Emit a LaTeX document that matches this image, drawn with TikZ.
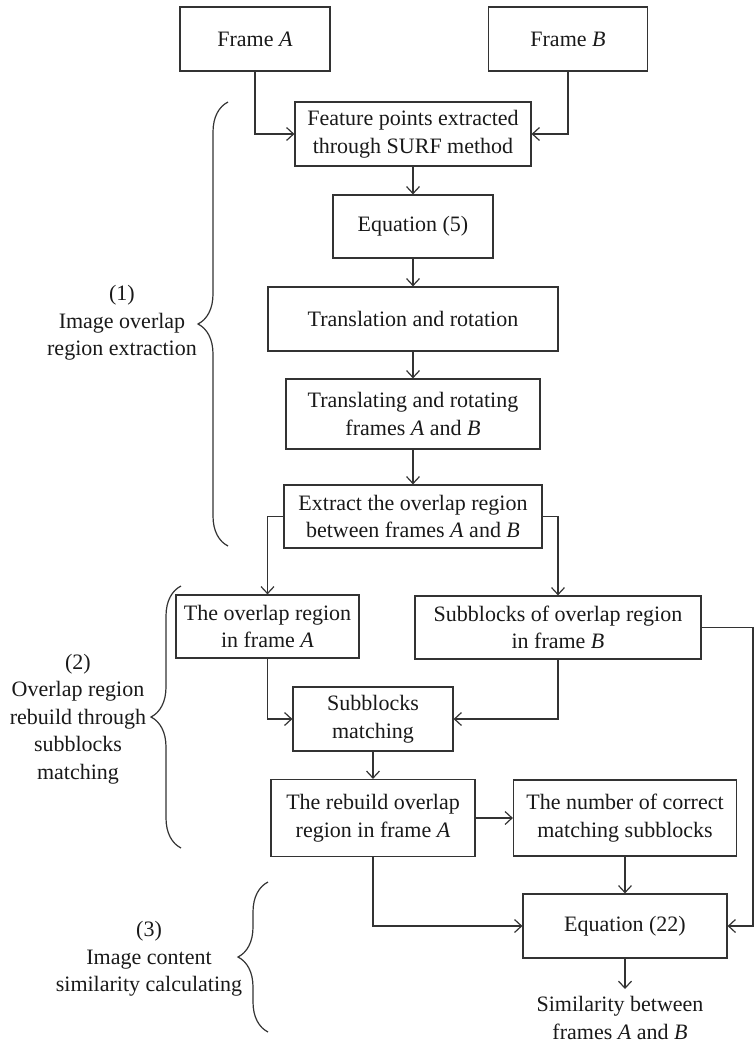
\documentclass[tikz,border=0pt]{standalone}
\usepackage{fontspec}
\setmainfont{Liberation Serif}
\usetikzlibrary{arrows.meta,decorations.pathreplacing}

\begin{document}
\begin{tikzpicture}[x=1pt,y=-1pt,
  font=\fontsize{22}{27.5}\selectfont,
  line width=1.2pt,
  every node/.style={text=black!90},
  blk/.style={draw=black!80,align=center,inner sep=0pt,minimum height=64pt},
  arr/.style={draw=black!80,-{Straight Barb[length=7pt,width=13pt,line width=1.2pt]}},
  brc/.style={draw=black!80,decorate,decoration={brace,amplitude=30pt}}]

\useasboundingbox (0,0) rectangle (755,1049);

\newcommand\colx{413}

\node[blk,minimum width=150pt] (frameA) at (255,39) {Frame \textit{A}};
\node[blk,minimum width=159pt] (frameB) at (568,39) {Frame \textit{B}};

\node[blk,minimum width=236pt] (surf) at (\colx,134) {Feature points extracted\\through SURF method};
\node[blk,minimum width=160pt,minimum height=63pt] (eqfive) at (\colx,226.5) {Equation (5)};
\node[blk,minimum width=290pt] (transrot) at (\colx,319) {Translation and rotation};
\node[blk,minimum width=254pt,minimum height=70pt] (transframes) at (\colx,414) {Translating and rotating\\frames \textit{A} and \textit{B}};
\node[blk,minimum width=258pt,minimum height=63pt] (extract) at (\colx,516.5) {Extract the overlap region\\between frames \textit{A} and \textit{B}};

\node[blk,minimum width=183pt,minimum height=63pt] (overlapA) at (267.5,626.5) {The overlap region\\in frame \textit{A}};
\node[blk,minimum width=286pt,minimum height=63pt] (subB) at (558,627.5) {Subblocks of overlap region\\in frame \textit{B}};
\node[blk,minimum width=160pt] (submatch) at (373,719) {Subblocks\\matching};
\node[blk,minimum width=204pt,minimum height=77pt] (rebuild) at (373,818) {The rebuild overlap\\region in frame \textit{A}};
\node[blk,minimum width=223pt,minimum height=76pt] (numcorrect) at (625,818) {The number of correct\\matching subblocks};
\node[blk,minimum width=204pt] (eqtt) at (625,926) {Equation (22)};
\node[align=center,inner sep=1pt,anchor=north] (simil) at (620,995) {Similarity between\\frames \textit{A} and \textit{B}};

% stage labels
\node[align=center] (lblone) at (122,323) {(1)\\Image overlap\\region extraction};
\node[align=center] (lbltwo) at (78,719) {(2)\\Overlap region\\rebuild through\\subblocks\\matching};
\node[align=center] (lblthree) at (149,959) {(3)\\Image content\\similarity calculating};

\draw[brc] (228,546) -- (228,102);
\draw[brc] (181,848) -- (181,586);
\draw[brc] (268,1032) -- (268,882);

\draw[arr] (frameA.south) |- (surf.west);
\draw[arr] (frameB.south) |- (surf.east);
\draw[arr] (surf) -- (eqfive);
\draw[arr] (eqfive) -- (transrot);
\draw[arr] (transrot) -- (transframes);
\draw[arr] (transframes) -- (extract);
\draw[arr] (extract.west) -| (overlapA.north);
\draw[arr] (extract.east) -| (subB.north);
\draw[arr] (overlapA.south) |- (submatch.west);
\draw[arr] (subB.south) |- (submatch.east);
\draw[arr] (submatch) -- (rebuild);
\draw[arr] (rebuild) -- (numcorrect);
\draw[arr] (numcorrect) -- (eqtt);
\draw[arr] (rebuild.south) |- (eqtt.west);

\coordinate (rail) at (753,800);
\draw[arr] (subB.east) -| (rail) |- (eqtt.east);
\draw[arr,shorten >=6pt] (eqtt.south) -- (eqtt.south |- simil.north);

\end{tikzpicture}
\end{document}
